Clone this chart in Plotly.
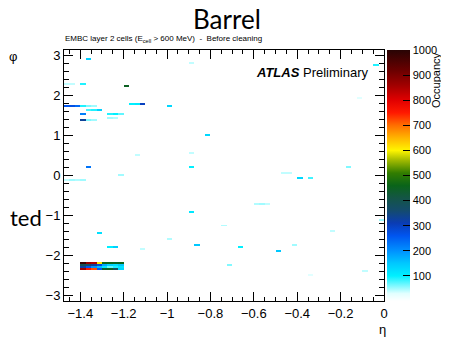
import numpy as np
import plotly.graph_objects as go

# ---- data ----
eta_edges_lo = -1.475
eta_step = 0.025
n_eta = 59
n_phi = 128
eta_centers = [round(eta_edges_lo + eta_step * (k + 0.5), 4) for k in range(n_eta)]
phi_step = 2 * np.pi / n_phi
phi_centers = [-np.pi + phi_step * (j + 0.5) for j in range(n_phi)]

# hot block (eta -1.4 .. -1.2)
block_eta = [-1.3875, -1.3625, -1.3375, -1.3125, -1.2875, -1.2625, -1.2375, -1.2125]
block_phi = [-2.185, -2.235, -2.282, -2.332]
block_occ = [
    [980, 870, 850, 610, 460, 460, 450, 460],
    [390, 370, 330, 280, 180, 140, 120, 150],
    [320, 260, 200, 160, 110, 70, 90, 110],
    [860, 760, 720, 260, 440, 450, 380, 130],
]

# isolated cells
cell_eta = [-1.3625, -1.1875, -1.4625, -1.4375, -1.4125, -1.3875, -1.3625, -1.3375,
            -1.1625, -1.1375, -1.1125, -1.3125, -1.3375, -1.3625, -1.3875, -1.3875,
            -1.3625, -1.3375, -1.2625, -1.2375, -1.2125, -1.2625, -1.2375,
            -1.3875, -1.4375, -1.4625, -1.3625, -1.3125, -1.2625, -1.2375, -1.1125,
            -0.9875, -0.8125, -0.8875, -0.3875, -0.3375, -0.8875, -0.8625, -0.6625,
            -0.4875, -0.0375, -0.0125, -0.7125, -0.8875, -0.1625, -0.5875, -0.5625,
            -0.5375, -0.9875, -1.1375, -0.8875, -0.4625, -0.4375, -0.2375, -0.4125,
            -0.7375, -0.0875, -0.3375, -0.1125, -1.4625, -1.4375, -1.4125, -1.3875,
            -1.2125]
cell_phi = [2.93, 2.21, 1.73, 1.73, 1.73, 1.73, 1.73, 1.73,
            1.77, 1.77, 1.77, 1.62, 1.62, 1.62, 1.57, 1.41,
            1.41, 1.41, 1.53, 1.53, 1.53, 1.44, 1.44,
            2.3, 2.3, 2.3, 0.2, -1.47, -1.8, -1.8, -1.84,
            1.75, 1.0, 0.2, -0.08, -0.08, -0.92, -1.72, -1.79,
            -1.87, 2.76, -1.12, -2.24, 2.82, 0.22, -0.72, -0.72,
            -0.72, -1.6, 0.5, 0.58, 0.07, 0.07, -1.38, -1.76,
            -1.26, -2.36, -2.49, 1.95, -0.1, -0.1, -0.1, -0.1,
            0.04]
cell_occ = [140, 450, 260, 270, 240, 90, 60, 50,
            100, 110, 300, 140, 90, 80, 220, 330,
            60, 50, 90, 100, 70, 50, 45,
            90, 40, 40, 230, 120, 100, 140, 40,
            130, 130, 100, 130, 80, 110, 150, 100,
            150, 90, 50, 60, 40, 60, 45, 50,
            40, 45, 40, 40, 40, 40, 40, 50,
            45, 40, 30, 30, 40, 50, 45, 50,
            50]

# ---- build grid ----
z = np.zeros((n_phi, n_eta))


def put(e, p, v):
    i = int(np.floor((e - eta_edges_lo) / eta_step))
    j = int(np.floor((p + np.pi) / phi_step))
    if 0 <= i < n_eta and 0 <= j < n_phi:
        z[j, i] = v


for r, p in enumerate(block_phi):
    for c, e in enumerate(block_eta):
        put(e, p, block_occ[r][c])
for e, p, v in zip(cell_eta, cell_phi, cell_occ):
    put(e, p, v)

colorscale = [
    [0.0, "rgb(255,255,255)"],
    [0.03, "rgb(225,255,255)"],
    [0.1, "rgb(0,240,255)"],
    [0.15, "rgb(0,200,255)"],
    [0.2, "rgb(0,145,255)"],
    [0.26, "rgb(0,85,240)"],
    [0.31, "rgb(10,60,180)"],
    [0.36, "rgb(20,75,110)"],
    [0.41, "rgb(20,85,70)"],
    [0.46, "rgb(10,100,25)"],
    [0.51, "rgb(50,125,0)"],
    [0.56, "rgb(160,185,0)"],
    [0.6, "rgb(255,245,0)"],
    [0.65, "rgb(255,180,0)"],
    [0.7, "rgb(255,110,0)"],
    [0.75, "rgb(255,25,0)"],
    [0.8, "rgb(225,0,0)"],
    [0.86, "rgb(160,0,0)"],
    [0.92, "rgb(105,0,0)"],
    [1.0, "rgb(40,4,4)"],
]

FONT = "Liberation Sans, Arial, Helvetica, sans-serif"

# page body has an 8px default margin; plot area should sit at x 64..384, y 50..301
OFF = 8
W, H = 449 - OFF, 343 - OFF
ML, MT = 64 - OFF, 50 - OFF
PW, PH = 320, 251
MR = W - ML - PW
MB = H - MT - PH


def px(X):
    return (X - 64) / PW


def py(Y):
    return (301 - Y) / PH


fig = go.Figure()
fig.add_trace(go.Heatmap(
    x=eta_centers, y=phi_centers, z=z,
    zmin=0, zmax=1000, colorscale=colorscale,
    colorbar=dict(
        x=px(387), xanchor="left", xpad=0, y=0.5, yanchor="middle", ypad=0,
        len=1.0, lenmode="fraction", thickness=23, outlinewidth=0,
        tickvals=[100, 200, 300, 400, 500, 600, 700, 800, 900, 1000],
        ticks="inside", ticklen=7, tickcolor="black", tickwidth=1,
        tickfont=dict(family=FONT, size=11, color="black"),
    ),
    hoverinfo="skip",
))

fig.update_layout(
    width=W, height=H,
    margin=dict(l=ML, r=MR, t=MT, b=MB, autoexpand=False),
    paper_bgcolor="white", plot_bgcolor="white",
    showlegend=False,
    xaxis=dict(
        range=[-1.475, 0], showgrid=False, zeroline=False,
        showline=True, linecolor="black", linewidth=1, mirror="ticks",
        ticks="inside", ticklen=9, tickcolor="black",
        tickvals=[-1.4, -1.2, -1.0, -0.8, -0.6, -0.4, -0.2, 0],
        ticktext=["−1.4", "−1.2", "−1", "−0.8", "−0.6", "−0.4", "−0.2", "0"],
        minor=dict(dtick=0.05, tick0=0, ticks="inside", ticklen=4, tickcolor="black"),
        tickfont=dict(family=FONT, size=13, color="black"),
    ),
    yaxis=dict(
        range=[-np.pi, np.pi], showgrid=False, zeroline=False,
        showline=True, linecolor="black", linewidth=1, mirror="ticks",
        ticks="inside", ticklen=9, tickcolor="black",
        tickvals=[-3, -2, -1, 0, 1, 2, 3],
        ticktext=["−3", "−2", "−1", "0", "1", "2", "3"],
        minor=dict(dtick=0.2, tick0=0, ticks="inside", ticklen=5, tickcolor="black"),
        tickfont=dict(family=FONT, size=13, color="black"),
    ),
)

fig.add_annotation(text="Barrel", xref="paper", yref="paper",
                   x=px(227), y=py(19),
                   xanchor="center", yanchor="middle", showarrow=False,
                   font=dict(family="Lato, sans-serif", size=26, color="black"))
fig.add_annotation(text="EMBC layer 2 cells (E<sub>cell</sub> > 600 MeV)  -  Before cleaning",
                   xref="paper", yref="paper",
                   x=px(63), y=py(39),
                   xanchor="left", yanchor="middle", showarrow=False,
                   font=dict(family=FONT, size=8, color="black"))
fig.add_annotation(text="<b><i>ATLAS</i></b> Preliminary", xref="paper", yref="paper",
                   x=px(371), y=py(72),
                   xanchor="right", yanchor="middle", showarrow=False,
                   font=dict(family=FONT, size=13, color="black"))
fig.add_annotation(text="φ", xref="paper", yref="paper",
                   x=px(13), y=py(57),
                   xanchor="center", yanchor="middle", showarrow=False,
                   font=dict(family=FONT, size=13, color="black"))
fig.add_annotation(text="η", xref="paper", yref="paper",
                   x=px(382), y=py(329),
                   xanchor="center", yanchor="middle", showarrow=False,
                   font=dict(family=FONT, size=13, color="black"))
fig.add_annotation(text="Occupancy", xref="paper", yref="paper",
                   x=px(436), y=py(80),
                   xanchor="center", yanchor="middle", textangle=-90, showarrow=False,
                   font=dict(family=FONT, size=11, color="black"))
fig.add_annotation(text="ted", xref="paper", yref="paper",
                   x=px(8), y=py(217),
                   xanchor="left", yanchor="middle", showarrow=False,
                   font=dict(family="Lato, sans-serif", size=22, color="black"))

fig.write_html("out.html")
